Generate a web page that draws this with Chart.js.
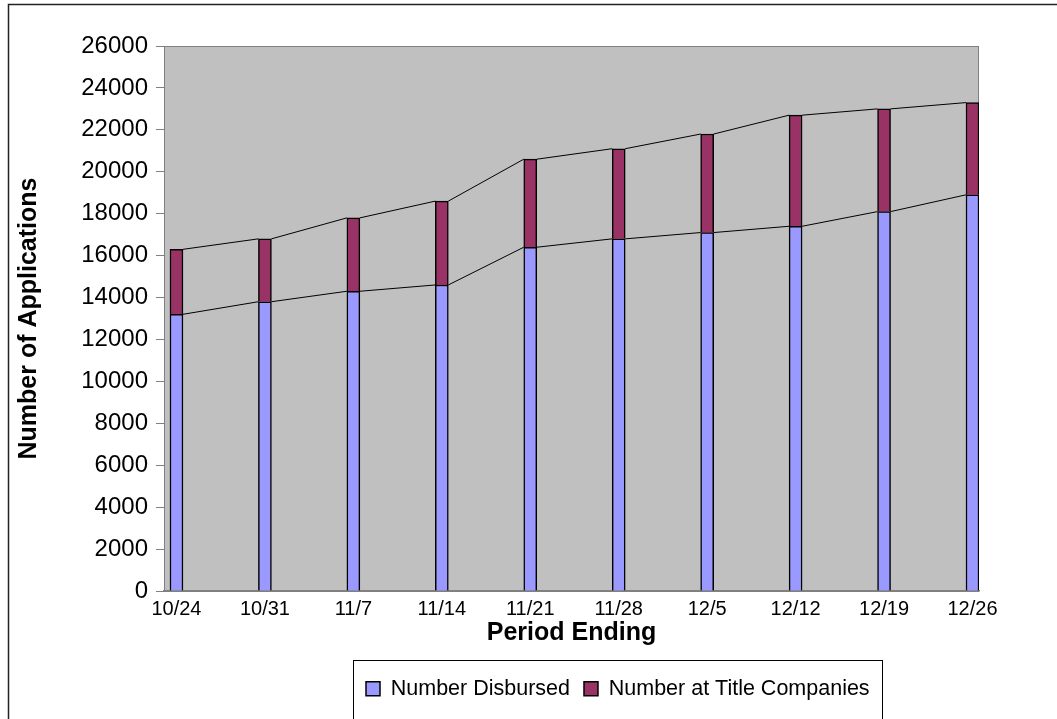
<!DOCTYPE html>
<html>
<head>
<meta charset="utf-8">
<script src="https://cdn.jsdelivr.net/npm/chart.js@4.4.1/dist/chart.umd.min.js"></script>
<style>
html,body{margin:0;padding:0;background:#fff;overflow:hidden}
#wrap{width:1057px;height:719px;position:relative}
</style>
</head>
<body>
<div id="wrap"><canvas id="c" width="1057" height="719"></canvas></div>
<script>
// ---- data ----
const categories = ['10/24','10/31','11/7','11/14','11/21','11/28','12/5','12/12','12/19','12/26'];
const disbursed = [13200, 13800, 14300, 14600, 16400, 16800, 17100, 17400, 18100, 18900];
const titleCompanies = [3100, 3000, 3500, 4000, 4200, 4300, 4700, 5300, 4900, 4400];
const yMin = 0, yMax = 26000, yStep = 2000;
const seriesNames = ['Number Disbursed', 'Number at Title Companies'];

const FONT = "'Liberation Sans', Arial, Helvetica, sans-serif";
Chart.defaults.font.family = FONT;
Chart.defaults.color = '#000';

const backgroundPlugin = {
  id: 'bg',
  beforeDraw(chart) {
    const {ctx, chartArea: a} = chart;
    ctx.save();
    ctx.fillStyle = '#fff';
    ctx.fillRect(0, 0, chart.width, chart.height);
    ctx.strokeStyle = '#222';
    ctx.lineWidth = 1.5;
    ctx.strokeRect(8.5, 4.5, 1200, 900);
    ctx.fillStyle = '#C0C0C0';
    ctx.fillRect(a.left, a.top, a.right - a.left, a.bottom - a.top);
    ctx.strokeStyle = '#808080';
    ctx.lineWidth = 1;
    ctx.strokeRect(a.left + 0.5, a.top + 0.5, a.right - a.left - 1, a.bottom - a.top);
    ctx.restore();
  }
};

const seriesLinesPlugin = {
  id: 'serieslines',
  afterDatasetsDraw(chart) {
    const ctx = chart.ctx;
    ctx.save();
    ctx.strokeStyle = '#000';
    ctx.lineWidth = 1;
    chart.data.datasets.forEach((ds, di) => {
      const els = chart.getDatasetMeta(di).data;
      ctx.beginPath();
      for (let i = 0; i < els.length - 1; i++) {
        const a = els[i], b = els[i + 1];
        ctx.moveTo(a.x + a.width / 2, a.y);
        ctx.lineTo(b.x - b.width / 2, b.y);
      }
      ctx.stroke();
    });
    ctx.restore();
  }
};

const LEGEND_START = 366;
const legendPlugin = {
  id: 'legendpos',
  afterLayout(chart) {
    const L = chart.legend;
    if (!L || !L.lineWidths) return;
    const p = L.options.labels.padding;
    const start = (L.left + p + L.right - L.lineWidths[0]) / 2;
    const shift = LEGEND_START - start;
    L.left += shift; L.right += shift;
    if (L.legendHitBoxes) L.legendHitBoxes.forEach(h => { h.left += shift; });
    L._borderBox = {left: LEGEND_START - 13, right: LEGEND_START + L.lineWidths[0] - p + 12, top: L.top - 4};
  },
  afterDraw(chart) {
    const L = chart.legend;
    if (!L || !L._borderBox) return;
    const b = L._borderBox;
    const ctx = chart.ctx;
    ctx.save();
    ctx.strokeStyle = '#000';
    ctx.lineWidth = 1;
    ctx.strokeRect(Math.round(b.left) + 0.5, Math.round(b.top) + 0.5, Math.round(b.right - b.left), 200);
    ctx.restore();
  }
};

new Chart(document.getElementById('c'), {
  type: 'bar',
  data: {
    datasets: [
      {
        label: seriesNames[0],
        data: disbursed.map((v, i) => ({x: i, y: v})),
        backgroundColor: '#9999FF',
        borderColor: '#000',
        borderWidth: 1.5,
        barThickness: 13,
        stack: 's'
      },
      {
        label: seriesNames[1],
        data: titleCompanies.map((v, i) => ({x: i, y: v})),
        backgroundColor: '#993366',
        borderColor: '#000',
        borderWidth: 1.5,
        barThickness: 13,
        stack: 's'
      }
    ]
  },
  options: {
    responsive: false,
    animation: false,
    devicePixelRatio: 1,
    layout: {padding: {top: 46, left: 8, right: 78, bottom: 9.5}},
    plugins: {
      legend: {
        position: 'bottom',
        labels: {boxWidth: 14, boxHeight: 14, padding: 14, color: '#000', font: {size: 21.5}}
      },
      tooltip: {enabled: false}
    },
    scales: {
      x: {
        type: 'linear',
        stacked: true,
        offset: false,
        min: -0.141,
        max: 9.0735,
        afterBuildTicks: s => { s.ticks = categories.map((c, i) => ({value: i})); },
        afterFit: s => { s.height = 73; },
        ticks: {
          autoSkip: false, maxRotation: 0, padding: -2, color: '#000',
          font: {size: 20},
          callback: v => categories[v] !== undefined ? categories[v] : ''
        },
        grid: {display: false},
        border: {display: true, color: '#808080', width: 1.5},
        title: {display: true, text: 'Period Ending', color: '#000', font: {size: 25, weight: 'bold'}, padding: {top: 0, bottom: 16}}
      },
      y: {
        stacked: true,
        min: yMin,
        max: yMax,
        afterFit: s => { s.width = 156; },
        ticks: {stepSize: yStep, padding: 8, color: '#000', font: {size: 24}, callback: v => String(v)},
        grid: {drawOnChartArea: false, drawTicks: true, tickLength: 8, color: '#808080'},
        border: {display: true, color: '#808080', width: 1},
        title: {display: true, text: 'Number of Applications', color: '#000', font: {size: 25, weight: 'bold'}, padding: {top: 6, bottom: 0}}
      }
    }
  },
  plugins: [backgroundPlugin, seriesLinesPlugin, legendPlugin]
});
</script>
</body>
</html>
